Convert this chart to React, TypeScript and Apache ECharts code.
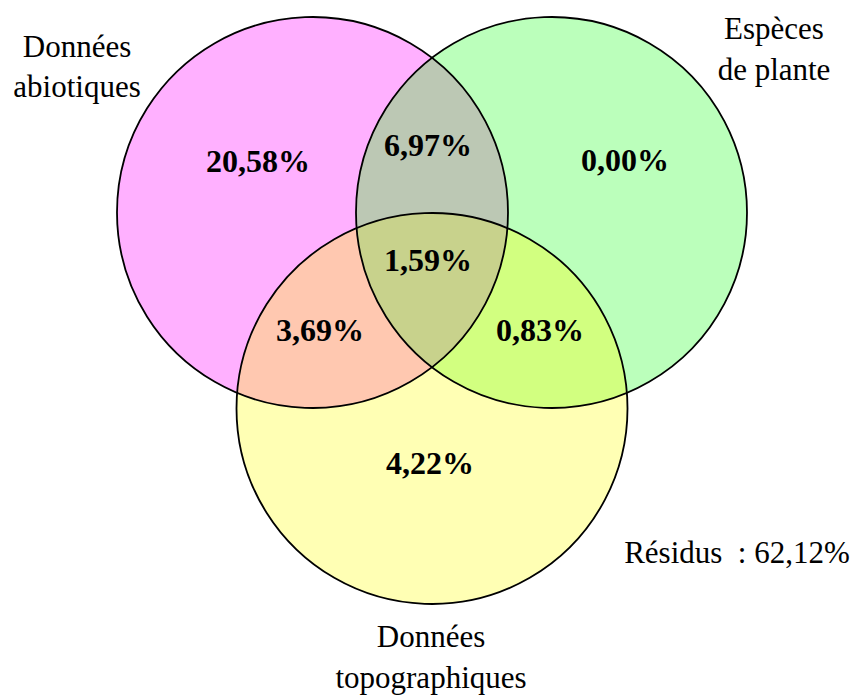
import React, { useEffect, useRef } from "react";
import * as echarts from "echarts";

// ---- data ----
const setNames = ["Données abiotiques", "Espèces de plante", "Données topographiques"];
const setNameLines = [
  ["Données", "abiotiques"],
  ["Espèces", "de plante"],
  ["Données", "topographiques"],
];
// region order: A only, B only, C only, A∩B, A∩C, B∩C, A∩B∩C
const regionKeys = ["A", "B", "C", "AB", "AC", "BC", "ABC"];
const regionValues = [20.58, 0.0, 4.22, 6.97, 3.69, 0.83, 1.59];
const residualLabel = "Résidus";
const residualValue = 62.12;

// ---- layout ----
const circles = [
  { cx: 312.5, cy: 212.5, r: 195.5 },
  { cx: 551.5, cy: 212.5, r: 195.5 },
  { cx: 432, cy: 408.5, r: 195.5 },
];
const baseColors = ["#FFB0FF", "#BBFFBB", "#FFFFB4"];
const overlapColors: Record<string, string> = {
  AB: "#BCC8B4",
  AC: "#FFC8B0",
  BC: "#D2FF80",
  ABC: "#C8D28C",
};
const regionLabelPos: Record<string, [number, number]> = {
  A: [258, 161],
  B: [625, 160],
  C: [430, 463],
  AB: [428, 145],
  AC: [320, 330],
  BC: [540, 330],
  ABC: [428, 260],
};
const nameLinePos: [number, number][][] = [
  [[77, 46], [77, 86]],
  [[774, 28], [774, 69]],
  [[431, 636], [431, 677]],
];

const fmt = (v: number) => v.toFixed(2).replace(".", ",") + "%";

function inside(p: [number, number], c: { cx: number; cy: number; r: number }) {
  const dx = p[0] - c.cx;
  const dy = p[1] - c.cy;
  return dx * dx + dy * dy <= c.r * c.r + 0.5;
}

function regionPolygon(idx: number[]): [number, number][] {
  const pts: [number, number][] = [];
  const N = 1440;
  idx.forEach((i) => {
    const c = circles[i];
    for (let k = 0; k < N; k++) {
      const a = (k / N) * Math.PI * 2;
      const p: [number, number] = [c.cx + c.r * Math.cos(a), c.cy + c.r * Math.sin(a)];
      if (idx.every((j) => j === i || inside(p, circles[j]))) pts.push(p);
    }
  });
  const mx = pts.reduce((s, p) => s + p[0], 0) / pts.length;
  const my = pts.reduce((s, p) => s + p[1], 0) / pts.length;
  pts.sort((p, q) => Math.atan2(p[1] - my, p[0] - mx) - Math.atan2(q[1] - my, q[0] - mx));
  return pts;
}

export default function App() {
  const ref = useRef<HTMLDivElement>(null);
  useEffect(() => {
    if (!ref.current) return;
    const chart = echarts.init(ref.current, undefined, { renderer: "svg" });
    const elements: any[] = [];
    circles.forEach((c, i) => {
      elements.push({
        type: "circle",
        shape: { cx: c.cx, cy: c.cy, r: c.r },
        style: { fill: baseColors[i], stroke: "none" },
        z: 1,
      });
    });
    const pairIdx: Record<string, number[]> = { AB: [0, 1], AC: [0, 2], BC: [1, 2], ABC: [0, 1, 2] };
    ["AB", "AC", "BC", "ABC"].forEach((k, n) => {
      elements.push({
        type: "polygon",
        shape: { points: regionPolygon(pairIdx[k]) },
        style: { fill: overlapColors[k], stroke: "none" },
        z: 2 + n,
      });
    });
    circles.forEach((c) => {
      elements.push({
        type: "circle",
        shape: { cx: c.cx, cy: c.cy, r: c.r },
        style: { fill: "none", stroke: "#000", lineWidth: 1.8 },
        z: 10,
      });
    });
    regionKeys.forEach((k, i) => {
      const [x, y] = regionLabelPos[k];
      elements.push({
        type: "text",
        x,
        y,
        style: {
          text: fmt(regionValues[i]),
          font: 'bold 32px "Liberation Serif"',
          fill: "#000",
          align: "center",
          verticalAlign: "middle",
        },
        z: 20,
      });
    });
    setNameLines.forEach((lines, i) => {
      lines.forEach((line, j) => {
        const [x, y] = nameLinePos[i][j];
        elements.push({
          type: "text",
          x,
          y,
          style: {
            text: line,
            font: '31px "Liberation Serif"',
            fill: "#000",
            align: "center",
            verticalAlign: "middle",
          },
          z: 20,
        });
      });
    });
    elements.push({
      type: "text",
      x: 737,
      y: 552,
      style: {
        text: residualLabel + "\u00A0\u00A0: " + fmt(residualValue),
        font: '31px "Liberation Serif"',
        fill: "#000",
        align: "center",
        verticalAlign: "middle",
      },
      z: 20,
    });
    chart.setOption({
      animation: false,
      backgroundColor: "#ffffff",
      title: { show: false, text: setNames.join(" / ") },
      graphic: { elements },
    });
    return () => chart.dispose();
  }, []);
  return (
    <div
      ref={ref}
      style={{ position: "fixed", left: 0, top: 0, width: 856, height: 695 }}
    />
  );
}
